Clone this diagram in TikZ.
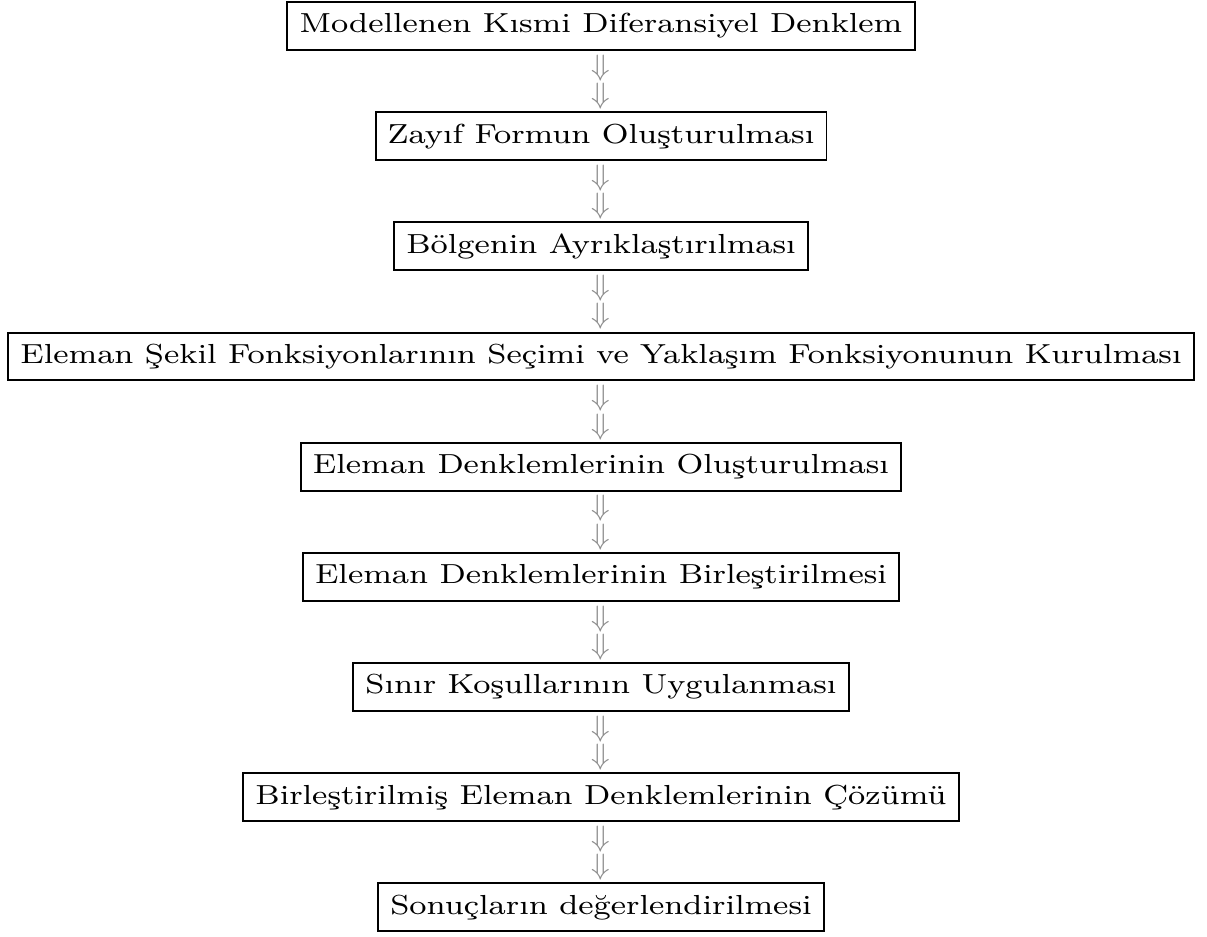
\documentclass[tikz,border=0pt]{standalone}
\usepackage{fontspec}
\setmainfont{Latin Modern Roman}[FakeStretch=1.175]
\usepackage{amsmath,amssymb}
\usepackage{tikz}
\usetikzlibrary{positioning}

\begin{document}
\begin{tikzpicture}[
  x=0.305pt, y=0.305pt,
  font=\fontsize{8.4pt}{10pt}\selectfont,
  level distance=33.6pt,
  stepbox/.style={draw, line width=0.6pt, minimum height=14.6pt, inner xsep=3.7pt, inner ysep=2pt},
  darr/.style={text=black!45, font=\small, inner sep=0pt},
  edge from parent/.style={draw=none},
]
\useasboundingbox (0,0) rectangle (1207,-936);
\node[stepbox] (pde) at (601,-26) {Modellenen Kısmi Diferansiyel Denklem}
  child {node[stepbox] (weak) {Zayıf Formun Oluşturulması}
    child {node[stepbox] (mesh) {Bölgenin Ayrıklaştırılması}
      child {node[stepbox] (shape) {Eleman Şekil Fonksiyonlarının Seçimi ve Yaklaşım Fonksiyonunun Kurulması}
        child {node[stepbox] (elem) {Eleman Denklemlerinin Oluşturulması}
          child {node[stepbox] (assem) {Eleman Denklemlerinin Birleştirilmesi}
            child {node[stepbox] (bc) {Sınır Koşullarının Uygulanması}
              child {node[stepbox] (solve) {Birleştirilmiş Eleman Denklemlerinin Çözümü}
                child {node[stepbox] (post) {Sonuçların değerlendirilmesi}
                  edge from parent node[darr,pos=0.28] (d8a) {$\Downarrow$} node[darr,pos=0.75] (d8b) {$\Downarrow$}
                }
                edge from parent node[darr,pos=0.28] (d7a) {$\Downarrow$} node[darr,pos=0.75] (d7b) {$\Downarrow$}
              }
              edge from parent node[darr,pos=0.28] (d6a) {$\Downarrow$} node[darr,pos=0.75] (d6b) {$\Downarrow$}
            }
            edge from parent node[darr,pos=0.28] (d5a) {$\Downarrow$} node[darr,pos=0.75] (d5b) {$\Downarrow$}
          }
          edge from parent node[darr,pos=0.28] (d4a) {$\Downarrow$} node[darr,pos=0.75] (d4b) {$\Downarrow$}
        }
        edge from parent node[darr,pos=0.28] (d3a) {$\Downarrow$} node[darr,pos=0.75] (d3b) {$\Downarrow$}
      }
      edge from parent node[darr,pos=0.28] (d2a) {$\Downarrow$} node[darr,pos=0.75] (d2b) {$\Downarrow$}
    }
    edge from parent node[darr,pos=0.28] (d1a) {$\Downarrow$} node[darr,pos=0.75] (d1b) {$\Downarrow$}
  };
\end{tikzpicture}
\end{document}
